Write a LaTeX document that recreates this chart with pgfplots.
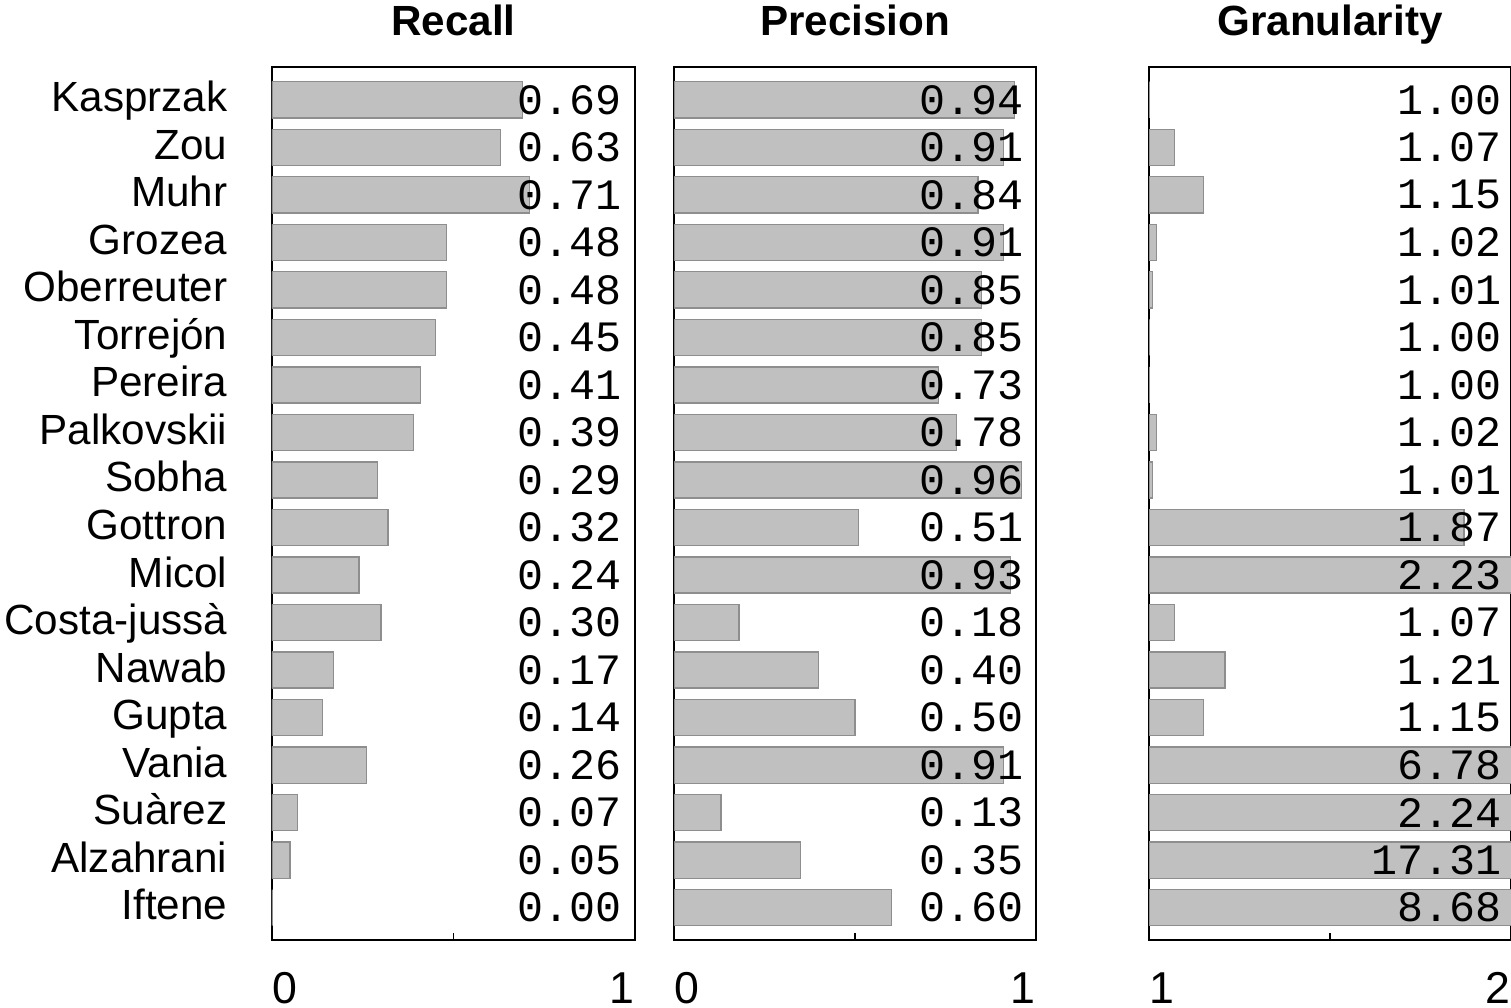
\documentclass[border=0pt]{standalone}
\usepackage{pgfplots}
\usepackage{pgfplotstable}
\pgfplotsset{compat=1.18}
\usepackage{fontspec}
\setmainfont{Liberation Sans}
\newfontfamily\monofont{Liberation Mono}
\definecolor{barfill}{HTML}{C0C0C0}
\definecolor{barline}{HTML}{8E8E8E}

\pgfplotstableread{
row rec reclab prec preclab gran granlab
0  0.69 0.69 0.94 0.94 1.00 1.00
1  0.63 0.63 0.91 0.91 1.07 1.07
2  0.71 0.71 0.84 0.84 1.15 1.15
3  0.48 0.48 0.91 0.91 1.02 1.02
4  0.48 0.48 0.85 0.85 1.01 1.01
5  0.45 0.45 0.85 0.85 1.00 1.00
6  0.41 0.41 0.73 0.73 1.00 1.00
7  0.39 0.39 0.78 0.78 1.02 1.02
8  0.29 0.29 0.96 0.96 1.01 1.01
9  0.32 0.32 0.51 0.51 1.87 1.87
10 0.24 0.24 0.93 0.93 2.23 2.23
11 0.30 0.30 0.18 0.18 1.07 1.07
12 0.17 0.17 0.40 0.40 1.21 1.21
13 0.14 0.14 0.50 0.50 1.15 1.15
14 0.26 0.26 0.91 0.91 6.78 6.78
15 0.07 0.07 0.13 0.13 2.24 2.24
16 0.05 0.05 0.35 0.35 17.31 17.31
17 0.00 0.00 0.60 0.60 8.68 8.68
}\datatable

\tikzset{endlab/.style={inner sep=0pt, font=\fontsize{13.4}{15}\selectfont}}

\pgfplotsset{
  panel/.style={
    scale only axis,
    anchor=south west,
    height=261.9pt,
    clip mode=individual,
    y dir=reverse,
    ymin=-0.69, ymax=17.68,
    ytick=\empty,
    axis line style={line width=0.4pt},
    tick align=inside,
    xtick pos=bottom,
    major tick length=2.1pt,
    every tick/.style={black, line width=0.4pt},
    xticklabels={},
    every axis title shift=0pt,
    title style={at={(0.5,1)}, anchor=base, yshift=9.6pt, inner sep=0pt, font=\fontsize{12.66}{14}\selectfont\bfseries},
  },
  bars/.style={
    xbar, bar width=0.76, bar shift=0pt,
    fill=barfill, draw=barline, line width=0.4pt,
  },
  labs/.style={
    draw=none, mark=none,
    nodes near coords,
    point meta=explicit symbolic,
    every node near coord/.style={anchor=east, inner sep=0pt, font=\fontsize{13}{14}\selectfont\monofont},
  },
}

\begin{document}
\begin{tikzpicture}
\useasboundingbox (0,0) rectangle (453.3pt,302.4pt);

\begin{axis}[panel, at={(81.6pt,20.4pt)}, width=108.9pt,
  title={Recall},
  xmin=0, xmax=1, xtick={0.5},
  ytick={0,...,17},
  yticklabels={Kasprzak,Zou,Muhr,Grozea,Oberreuter,Torrejón,Pereira,Palkovskii,Sobha,Gottron,Micol,Costa-jussà,Nawab,Gupta,Vania,Suàrez,Alzahrani,Iftene},
  ytick style={draw=none},
  yticklabel style={anchor=base east, inner sep=0pt, xshift=-13.2pt, yshift=-3.6pt, font=\fontsize{12.66}{14}\selectfont},
]
\addplot[bars] table[x=rec, y=row] {\datatable};
\addplot[labs] table[x expr=0.964, y=row, meta=reclab] {\datatable};
\node[endlab, anchor=base west] at (rel axis cs:0,0) [yshift=-18.9pt] {0};
\node[endlab, anchor=base east] at (rel axis cs:1,0) [yshift=-18.9pt] {1};
\end{axis}

\begin{axis}[panel, at={(202.2pt,20.4pt)}, width=108.6pt,
  title={Precision},
  xmin=0, xmax=1, xtick={0.5},
]
\addplot[bars] table[x=prec, y=row] {\datatable};
\addplot[labs] table[x expr=0.967, y=row, meta=preclab] {\datatable};
\node[endlab, anchor=base west] at (rel axis cs:0,0) [yshift=-18.9pt] {0};
\node[endlab, anchor=base east] at (rel axis cs:1,0) [yshift=-18.9pt] {1};
\end{axis}

\begin{axis}[panel, at={(344.7pt,20.4pt)}, width=108.6pt,
  title={Granularity},
  xmin=1, xmax=2, xtick={1.5},
]
\addplot[bars] table[x=gran, y=row] {\datatable};
\addplot[labs] table[x expr=1.975, y=row, meta=granlab] {\datatable};
\node[endlab, anchor=base west] at (rel axis cs:0,0) [yshift=-18.9pt] {1};
\node[endlab, anchor=base east] at (rel axis cs:1,0) [yshift=-18.9pt] {2};
\end{axis}
\end{tikzpicture}
\end{document}
